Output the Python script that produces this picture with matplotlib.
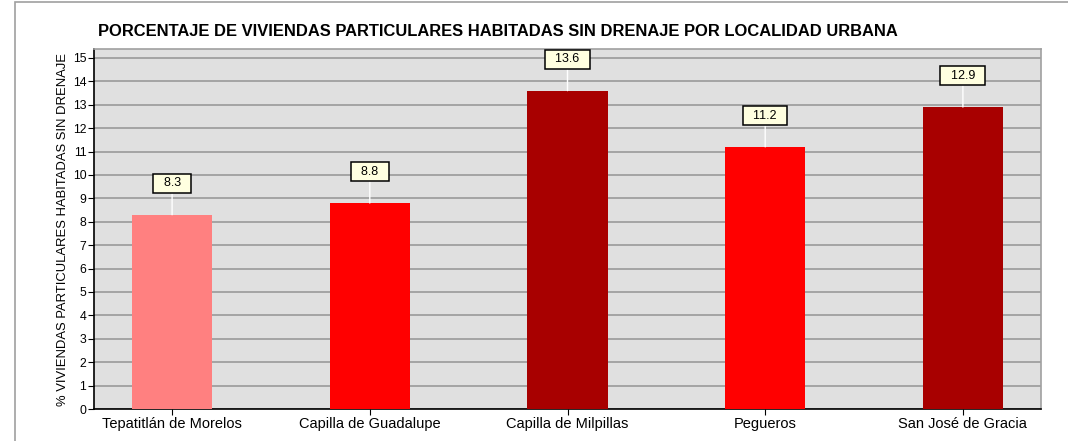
import matplotlib.pyplot as plt
from matplotlib.patches import Rectangle

plt.rcParams['font.family'] = ['Liberation Sans', 'DejaVu Sans']

localidades = ['Tepatitlán de Morelos', 'Capilla de Guadalupe', 'Capilla de Milpillas',
               'Pegueros', 'San José de Gracia']
valores = [8.3, 8.8, 13.6, 11.2, 12.9]
colores = ['#FF8080', '#FF0000', '#A80000', '#FF0000', '#A80000']
yticks = list(range(0, 16))

titulo = 'PORCENTAJE DE VIVIENDAS PARTICULARES HABITADAS SIN DRENAJE POR LOCALIDAD URBANA'
ylabel = '% VIVIENDAS PARTICULARES HABITADAS SIN DRENAJE'


def main():
    W, H = 1068, 441
    fig = plt.figure(figsize=(W / 100, H / 100), dpi=100)

    # outer frame (only left and top edges visible in the reference)
    fig.patches.append(Rectangle((15 / W, -0.1), 1.2, 1 - 1.5 / H + 0.1,
                                 transform=fig.transFigure, fill=False,
                                 edgecolor='#A0A0A0', linewidth=1.2))

    ax = fig.add_axes([94 / W, 1 - 409 / H, (1041 - 94) / W, (409 - 49) / H])
    ax.set_facecolor('#E0E0E0')

    x = range(len(localidades))
    ax.bar(x, valores, width=0.405, color=colores, zorder=3)

    ax.set_xlim(-0.395, len(localidades) - 1 + 0.395)
    ax.set_ylim(0, 15.38)
    ax.set_yticks(yticks)
    ax.set_xticks(list(x))
    ax.set_xticklabels(localidades, fontsize=10.5)
    ax.tick_params(axis='y', labelsize=8.8, length=4.5, pad=1)
    ax.tick_params(axis='x', length=4, pad=2)
    ax.yaxis.grid(True, color='#9A9A9A', linewidth=1.2, zorder=1)
    ax.set_axisbelow(True)

    for s in ['left', 'bottom']:
        ax.spines[s].set_color('black')
        ax.spines[s].set_linewidth(1.2)
    for s in ['top', 'right']:
        ax.spines[s].set_color('#A0A0A0')
        ax.spines[s].set_linewidth(1.2)

    ax.set_ylabel(ylabel, fontsize=9.4, labelpad=3)

    for xi, v in zip(x, valores):
        ax.annotate(f'  {v:.1f}  ', xy=(xi, v), xytext=(0, 22.5), textcoords='offset points',
                    ha='center', va='center', fontsize=9,
                    bbox=dict(boxstyle='square,pad=0.27', facecolor='#FFFFE0',
                              edgecolor='black', linewidth=1.1),
                    arrowprops=dict(arrowstyle='-', color='white', linewidth=1,
                                    shrinkA=0, shrinkB=0),
                    zorder=5)

    fig.text(98 / W, 1 - 31 / H, titulo, fontsize=11.9, fontweight='bold',
             ha='left', va='center')

    fig.savefig('out.png', dpi=100)


if __name__ == '__main__':
    main()
